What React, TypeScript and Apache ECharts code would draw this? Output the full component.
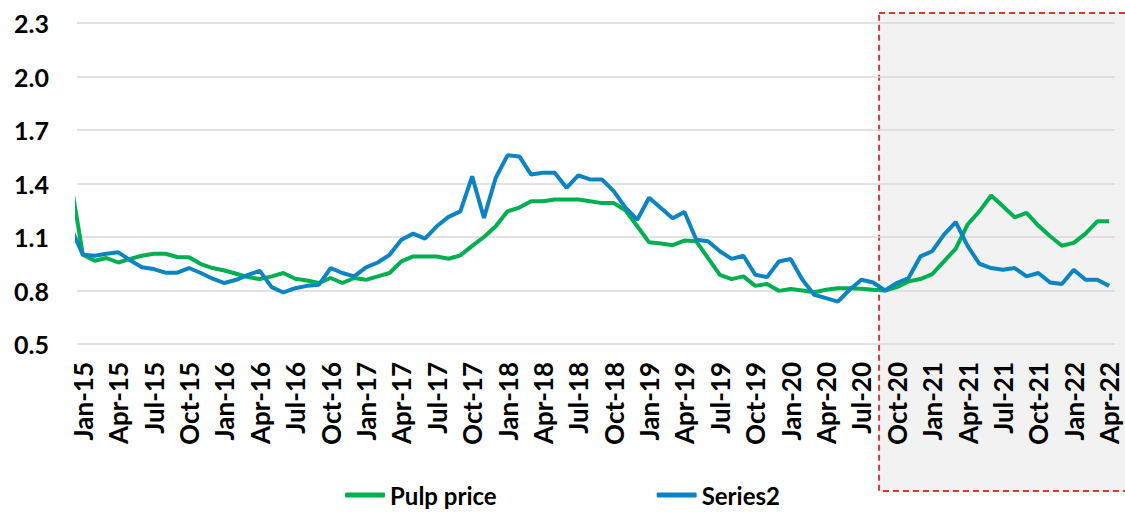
import React, { useEffect, useRef } from "react";
import * as echarts from "echarts";

// Dec-14 is a leading point that is clipped by the plot edge (the axis starts at Jan-15)
const months = [
  "Dec-14",
  "Jan-15", "Feb-15", "Mar-15", "Apr-15", "May-15", "Jun-15", "Jul-15", "Aug-15", "Sep-15", "Oct-15", "Nov-15", "Dec-15",
  "Jan-16", "Feb-16", "Mar-16", "Apr-16", "May-16", "Jun-16", "Jul-16", "Aug-16", "Sep-16", "Oct-16", "Nov-16", "Dec-16",
  "Jan-17", "Feb-17", "Mar-17", "Apr-17", "May-17", "Jun-17", "Jul-17", "Aug-17", "Sep-17", "Oct-17", "Nov-17", "Dec-17",
  "Jan-18", "Feb-18", "Mar-18", "Apr-18", "May-18", "Jun-18", "Jul-18", "Aug-18", "Sep-18", "Oct-18", "Nov-18", "Dec-18",
  "Jan-19", "Feb-19", "Mar-19", "Apr-19", "May-19", "Jun-19", "Jul-19", "Aug-19", "Sep-19", "Oct-19", "Nov-19", "Dec-19",
  "Jan-20", "Feb-20", "Mar-20", "Apr-20", "May-20", "Jun-20", "Jul-20", "Aug-20", "Sep-20", "Oct-20", "Nov-20", "Dec-20",
  "Jan-21", "Feb-21", "Mar-21", "Apr-21", "May-21", "Jun-21", "Jul-21", "Aug-21", "Sep-21", "Oct-21", "Nov-21", "Dec-21",
  "Jan-22", "Feb-22", "Mar-22", "Apr-22",
];

const pulpPrice = [
  1.40,
  1.0, 0.967, 0.982, 0.957, 0.977, 0.995, 1.006, 1.006, 0.988, 0.986, 0.948, 0.926,
  0.912, 0.894, 0.875, 0.864, 0.879, 0.898, 0.866, 0.856, 0.842, 0.87, 0.842, 0.87,
  0.86, 0.879, 0.898, 0.963, 0.991, 0.991, 0.991, 0.978, 0.997, 1.05, 1.1, 1.16,
  1.244, 1.265, 1.3, 1.3, 1.31, 1.31, 1.31, 1.3, 1.29, 1.29, 1.25, 1.16,
  1.07, 1.063, 1.054, 1.08, 1.076, 0.982, 0.888, 0.864, 0.879, 0.826, 0.836, 0.798,
  0.808, 0.8, 0.79, 0.804, 0.813, 0.813, 0.81, 0.804, 0.8, 0.819, 0.851, 0.864,
  0.892, 0.963, 1.035, 1.17, 1.244, 1.333, 1.272, 1.21, 1.235, 1.164, 1.104, 1.051,
  1.067, 1.119, 1.188, 1.188,
];

const series2 = [
  1.15,
  1.0, 0.995, 1.006, 1.014, 0.97, 0.93, 0.92, 0.9, 0.9, 0.926, 0.898, 0.866,
  0.842, 0.86, 0.888, 0.91, 0.819, 0.789, 0.813, 0.826, 0.832, 0.926, 0.898, 0.879,
  0.93, 0.957, 1.0, 1.085, 1.119, 1.091, 1.16, 1.213, 1.244, 1.44, 1.207, 1.432,
  1.558, 1.552, 1.45, 1.46, 1.46, 1.376, 1.445, 1.423, 1.423, 1.357, 1.265, 1.197,
  1.32, 1.263, 1.205, 1.24, 1.085, 1.076, 1.02, 0.977, 0.995, 0.888, 0.875, 0.963,
  0.977, 0.86, 0.776, 0.757, 0.738, 0.804, 0.86, 0.845, 0.8, 0.842, 0.87, 0.991,
  1.02, 1.113, 1.183, 1.05, 0.95, 0.926, 0.916, 0.926, 0.879, 0.898, 0.845, 0.836,
  0.916, 0.86, 0.86, 0.826,
];

const seriesNames = ["Pulp price", "Series2"];
const seriesColors = ["#00b050", "#0c84c4"];
const yMin = 0.5;
const yMax = 2.3;
const yStep = 0.3;
const highlightFrom = "Sep-20"; // shaded forecast zone starts at this month

const FONT = "Lato, 'Open Sans', sans-serif";

export default function App() {
  const ref = useRef<HTMLDivElement>(null);

  useEffect(() => {
    if (!ref.current) return;
    const chart = echarts.init(ref.current, undefined, { renderer: "svg" });
    const axisMonths = months.slice(1);
    const toPairs = (arr: number[]) => arr.map((v, i) => [i - 1, v]);

    chart.setOption({
      animation: false,
      backgroundColor: "#ffffff",
      grid: { left: 77, right: 10, top: 23, bottom: 168, containLabel: false },
      legend: {
        bottom: 0,
        left: "center",
        itemGap: 160,
        itemWidth: 40,
        itemHeight: 5,
        icon: "roundRect",
        data: seriesNames,
        textStyle: { fontFamily: FONT, fontSize: 24, fontWeight: "bold", color: "#000" },
      },
      xAxis: [
        {
          type: "category",
          data: axisMonths,
          boundaryGap: true,
          axisLine: { show: false },
          axisTick: { show: false },
          splitLine: { show: false },
          axisLabel: {
            interval: 2,
            rotate: 90,
            margin: 18,
            fontFamily: FONT,
            fontSize: 26,
            fontWeight: "bold",
            color: "#000",
          },
        },
        {
          type: "value",
          min: -0.5,
          max: axisMonths.length - 0.5,
          show: false,
          splitLine: { show: false },
        },
      ],
      yAxis: {
        type: "value",
        min: yMin,
        max: yMax,
        interval: yStep,
        axisLine: { show: false },
        axisTick: { show: false },
        splitLine: { lineStyle: { color: "#d9d9d9", width: 1.5 } },
        axisLabel: {
          margin: 28,
          formatter: (v: number) => v.toFixed(1),
          fontFamily: FONT,
          fontSize: 25,
          fontWeight: "bold",
          color: "#000",
        },
      },
      series: [
        {
          name: seriesNames[0],
          type: "line",
          xAxisIndex: 1,
          data: toPairs(pulpPrice),
          showSymbol: false,
          symbol: "none",
          clip: true,
          lineStyle: { color: seriesColors[0], width: 4 },
          itemStyle: { color: seriesColors[0] },
          z: 3,
        },
        {
          name: seriesNames[1],
          type: "line",
          xAxisIndex: 1,
          data: toPairs(series2),
          showSymbol: false,
          symbol: "none",
          clip: true,
          lineStyle: { color: seriesColors[1], width: 4 },
          itemStyle: { color: seriesColors[1] },
          z: 4,
        },
      ],
    });

    const startIdx = axisMonths.indexOf(highlightFrom) - 0.5;
    const left = chart.convertToPixel({ xAxisIndex: 1 }, startIdx) as number;
    const top = (chart.convertToPixel({ yAxisIndex: 0 }, yMax) as number) - 10;
    chart.setOption({
      graphic: [
        {
          type: "rect",
          z: -10,
          silent: true,
          shape: { x: left, y: top, width: 1140 - left, height: 491 - top },
          style: {
            fill: "#f2f2f2",
            stroke: "#d8392c",
            lineWidth: 2,
            lineDash: [6, 4],
          },
        },
      ],
    });

    return () => chart.dispose();
  }, []);

  return (
    <div
      ref={ref}
      style={{ position: "fixed", left: 0, top: 0, width: 1125, height: 512 }}
    />
  );
}
